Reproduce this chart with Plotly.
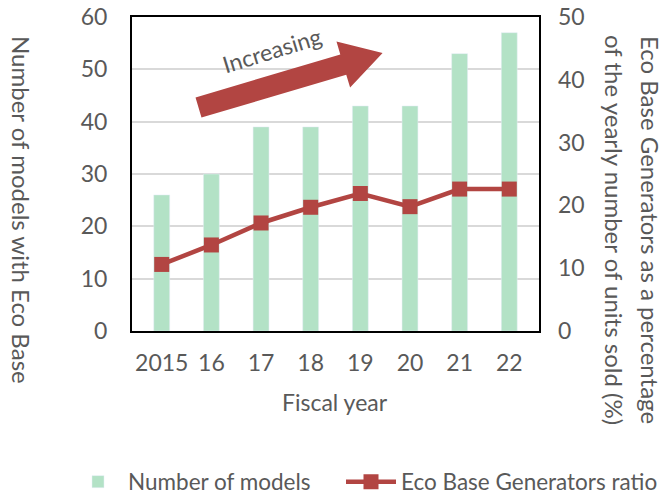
import math
import plotly.graph_objects as go

years = ["2015", "16", "17", "18", "19", "20", "21", "22"]
num_models = [26, 30, 39, 39, 43, 43, 53, 57]
eco_ratio = [10.6, 13.7, 17.2, 19.7, 21.9, 19.8, 22.6, 22.6]

BAR_COLOR = "#B3E2C6"
LINE_COLOR = "#B24542"
TEXT_COLOR = "#595959"
FONT = "Lato"

W, H = 668, 495
L, R, T, B = 132, 129, 17, 164
PW, PH = W - L - R, H - T - B


def px2paper(x, y):
    return (x - L) / PW, (H - B - y) / PH


fig = go.Figure()
fig.add_trace(go.Bar(x=years, y=num_models, name="Number of models",
                     marker_color=BAR_COLOR, width=0.32, yaxis="y",
                     legend="legend"))
fig.add_trace(go.Scatter(x=years, y=eco_ratio, name="Eco Base Generators ratio",
                         mode="lines+markers", yaxis="y2", legend="legend2",
                         line=dict(color=LINE_COLOR, width=4.5),
                         marker=dict(symbol="square", size=15, color=LINE_COLOR)))

# arrow polygon (decoration) built from a centre line
c0 = (198.5, 107.5)
ang = math.radians(-16.5)
u = (math.cos(ang), math.sin(ang))
n = (-u[1], u[0])
shaft_len, head_len, sw, hw = 151, 41, 10.5, 24
cb = (c0[0] + shaft_len * u[0], c0[1] + shaft_len * u[1])
tip = (cb[0] + head_len * u[0], cb[1] + head_len * u[1])
pts = [
    (c0[0] - sw * n[0], c0[1] - sw * n[1]),
    (cb[0] - sw * n[0], cb[1] - sw * n[1]),
    (cb[0] - hw * n[0], cb[1] - hw * n[1]),
    tip,
    (cb[0] + hw * n[0], cb[1] + hw * n[1]),
    (cb[0] + sw * n[0], cb[1] + sw * n[1]),
    (c0[0] + sw * n[0], c0[1] + sw * n[1]),
]
pp = [px2paper(*p) for p in pts]
path = "M " + " L ".join(f"{x:.4f},{y:.4f}" for x, y in pp) + " Z"
fig.add_shape(type="path", path=path, xref="paper", yref="paper",
              fillcolor=LINE_COLOR, line=dict(width=0), layer="above")


def note(text, px, py, size, angle=0):
    x, y = px2paper(px, py)
    fig.add_annotation(text=text, x=x, y=y, xref="paper", yref="paper",
                       xanchor="center", yanchor="middle", showarrow=False,
                       textangle=angle,
                       font=dict(family=FONT, size=size, color=TEXT_COLOR))


note("Increasing", 272, 50, 23, -17)
note("Number of models with Eco Base", 22, 210, 24, 90)
note("Eco Base Generators as a percentage", 651, 230, 24, 90)
note("of the yearly number of units sold (%)", 615, 230, 24, 90)
note("Fiscal year", 335, 402, 23)

leg_common = dict(orientation="h", xref="container", yref="container",
                  y=1 - 482 / H, xanchor="left", yanchor="middle",
                  font=dict(family=FONT, size=22.5, color=TEXT_COLOR),
                  itemwidth=50, bgcolor="rgba(0,0,0,0)")

fig.update_layout(
    width=W, height=H,
    margin=dict(l=L, r=R, t=T, b=B, autoexpand=False),
    paper_bgcolor="white", plot_bgcolor="white",
    font=dict(family=FONT, size=23, color=TEXT_COLOR),
    showlegend=True,
    legend=dict(x=68 / W, **leg_common),
    legend2=dict(x=341 / W, **leg_common),
    xaxis=dict(type="category", showline=True, mirror=True, linecolor="black",
               linewidth=2, showgrid=False, ticks="", ticklabelstandoff=10,
               automargin=False,
               tickfont=dict(family=FONT, size=23, color=TEXT_COLOR)),
    yaxis=dict(range=[0, 60], dtick=10, showline=True, mirror=True,
               linecolor="black", linewidth=2, showgrid=True,
               gridcolor="#D9D9D9", gridwidth=2, zeroline=False, ticks="",
               ticklabelstandoff=18, automargin=False,
               tickfont=dict(family=FONT, size=23, color=TEXT_COLOR)),
    yaxis2=dict(range=[0, 50], dtick=10, overlaying="y", side="right",
                showgrid=False, zeroline=False, showline=False, ticks="",
                ticklabelstandoff=18, automargin=False,
                tickfont=dict(family=FONT, size=23, color=TEXT_COLOR)),
)

fig.write_html("out.html", config={"displayModeBar": False},
               post_script="document.body.style.margin='0';")
